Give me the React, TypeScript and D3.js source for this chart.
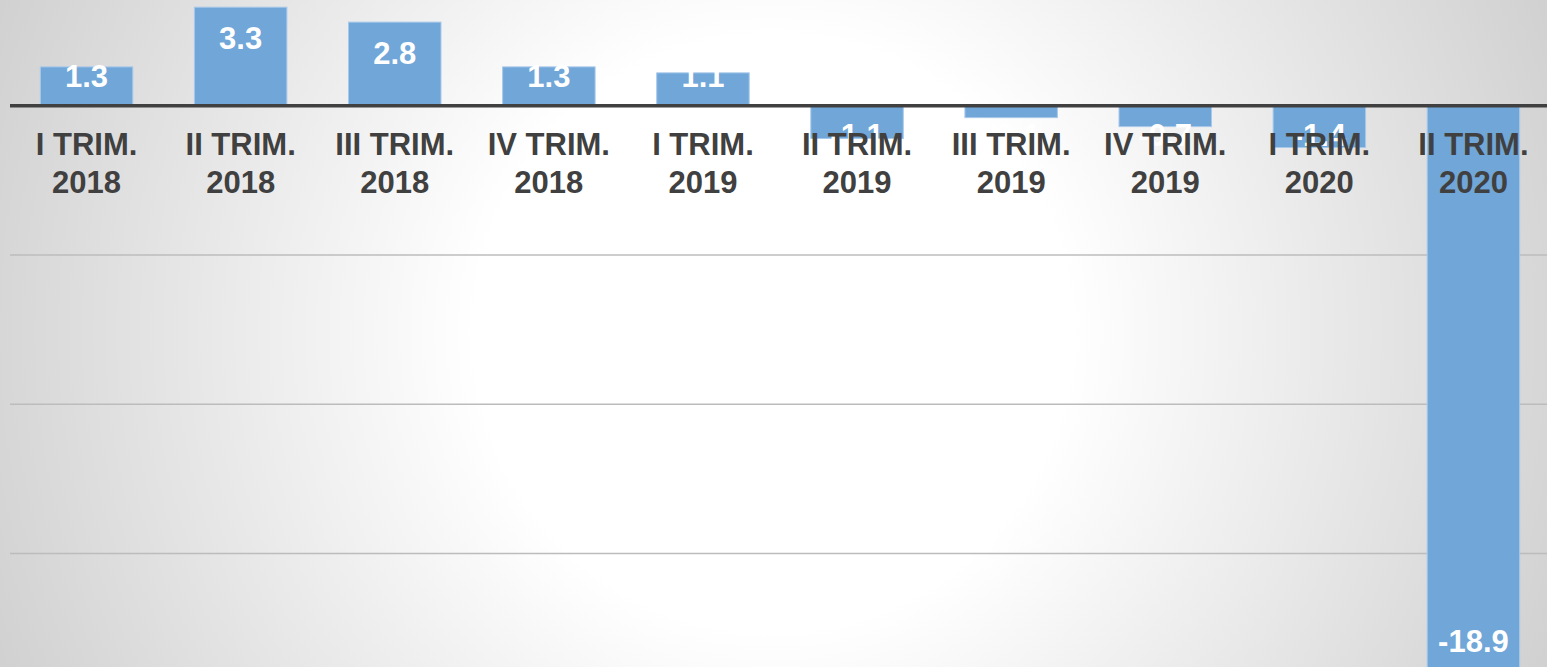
import React from "react";
import * as d3 from "d3";

const quarters = ["I TRIM.", "II TRIM.", "III TRIM.", "IV TRIM.", "I TRIM.", "II TRIM.", "III TRIM.", "IV TRIM.", "I TRIM.", "II TRIM."];
const years = ["2018", "2018", "2018", "2018", "2019", "2019", "2019", "2019", "2020", "2020"];
const values = [1.3, 3.3, 2.8, 1.3, 1.1, -1.1, -0.4, -0.7, -1.4, -18.9];
const gridTicks = [-15, -10, -5];

const W = 1547;
const H = 667;
const FONT = "'Liberation Sans', Arial, Helvetica, sans-serif";

export default function App() {
  const ids = values.map((_, i) => String(i));
  const x = d3.scaleBand<string>().domain(ids).range([9.5, 1550.5]).paddingInner(0.4).paddingOuter(0.2);
  const y = d3.scaleLinear().domain([-20, 5]).range([702.7, -43.55]);
  const y0 = y(0);

  return (
    <svg width={W} height={H} style={{ position: "absolute", left: 0, top: 0, display: "block" }}>
      <defs>
        <radialGradient id="bg" gradientUnits="userSpaceOnUse" cx={773} cy={333} r={850}>
          <stop offset="0" stopColor="#ffffff" />
          <stop offset="0.35" stopColor="#ffffff" />
          <stop offset="1" stopColor="#d0d0d0" />
        </radialGradient>
      </defs>
      <rect x={0} y={0} width={W} height={H} fill="url(#bg)" />
      {gridTicks.map((t) => (
        <line key={t} x1={10} x2={W} y1={y(t)} y2={y(t)} stroke="#bcbcbc" strokeWidth={1.5} />
      ))}
      {values.map((v, i) => {
        const bx = x(String(i))!;
        const top = Math.min(y(v), y0);
        const h = Math.abs(y(v) - y0);
        return (
          <rect key={i} x={bx} y={top} width={x.bandwidth()} height={h} fill="#70a6d8" stroke="#a8c8ea" strokeWidth={1} />
        );
      })}
      {values.map((v, i) => {
        const cx = x(String(i))! + x.bandwidth() / 2;
        let base: number;
        if (v >= 0) {
          base = Math.min(y(v) + 41.7, y0 - 18.4);
        } else {
          base = Math.max(y(v) - 18, y0 + 40.5);
        }
        return (
          <text key={i} x={cx} y={base} textAnchor="middle" fontFamily={FONT} fontWeight="bold" fontSize={31} fill="#ffffff">
            {v.toFixed(1)}
          </text>
        );
      })}
      <line x1={10} x2={W} y1={y0} y2={y0} stroke="#404040" strokeWidth={3.5} />
      {quarters.map((q, i) => {
        const cx = x(String(i))! + x.bandwidth() / 2;
        return (
          <text key={i} textAnchor="middle" fontFamily={FONT} fontWeight="bold" fontSize={31} fill="#404040">
            <tspan x={cx} y={y0 + 49.3}>{q}</tspan>
            <tspan x={cx} y={y0 + 87}>{years[i]}</tspan>
          </text>
        );
      })}
    </svg>
  );
}
